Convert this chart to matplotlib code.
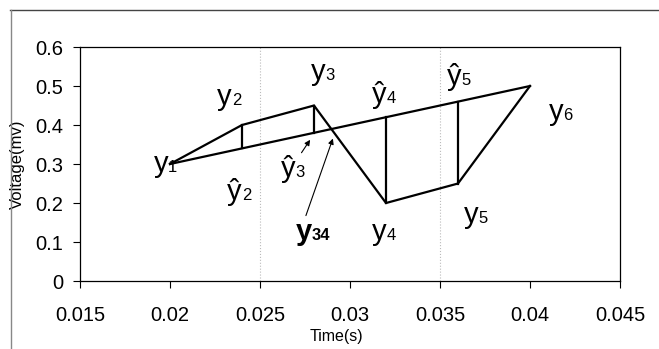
import numpy as np
import matplotlib.pyplot as plt
from matplotlib.lines import Line2D

plt.rcParams['font.family'] = ['Liberation Sans', 'DejaVu Sans']

# measured samples y1..y6
t = [0.020, 0.024, 0.028, 0.032, 0.036, 0.040]
v = [0.30, 0.40, 0.45, 0.20, 0.25, 0.50]
# straight estimate y1 -> y6
t_hat = [0.020, 0.040]
v_hat = [0.30, 0.50]
x_ticks = [0.015, 0.02, 0.025, 0.03, 0.035, 0.04, 0.045]
x_ticklabels = ['0.015', '0.02', '0.025', '0.03', '0.035', '0.04', '0.045']
y_ticks = [0, 0.1, 0.2, 0.3, 0.4, 0.5, 0.6]
y_ticklabels = ['0', '0.1', '0.2', '0.3', '0.4', '0.5', '0.6']
grid_x = [0.025, 0.035]

# point labels: letter, subscript, x, baseline y, bold
labels = [
    ('y', '1', 0.01989, 0.279, False),
    ('y', '2', 0.02343, 0.451, False),
    ('y', '3', 0.02862, 0.515, False),
    ('y', '4', 0.03204, 0.105, False),
    ('y', '5', 0.03713, 0.148, False),
    ('y', '6', 0.04185, 0.413, False),
    ('\u0177', '2', 0.02398, 0.208, False),
    ('\u0177', '3', 0.02694, 0.267, False),
    ('\u0177', '4', 0.03204, 0.456, False),
    ('\u0177', '5', 0.0362, 0.503, False),
    ('y', '34', 0.02787, 0.105, True),
]


def v_est(x):
    return np.interp(x, t_hat, v_hat)


fig = plt.figure(figsize=(6.59, 3.49), dpi=100)
ax = fig.add_axes([0.1214, 0.1948, 0.8194, 0.6705])

for gx in grid_x:
    ax.axvline(gx, color='#bbbbbb', lw=0.8, ls=':', zorder=0)

ax.plot(t, v, color='black', lw=1.6, solid_joinstyle='miter')
ax.plot(t_hat, v_hat, color='black', lw=1.6)
for ti, vi in zip(t[1:-1], v[1:-1]):
    ax.plot([ti, ti], [vi, v_est(ti)], color='black', lw=1.6)

for base, sub, x, y, bold in labels:
    w = 'bold' if bold else 'normal'
    ax.text(x, y, base, fontsize=21, ha='right', va='baseline', fontweight=w)
    ax.text(x, y, sub, fontsize=12, ha='left', va='baseline', fontweight=w)

# arrows to the estimate line and the y3-y4 crossing
ax.annotate('', xy=(0.0291, 0.372), xytext=(0.0275, 0.161),
            arrowprops=dict(arrowstyle='-|>', color='black', lw=0.8,
                            mutation_scale=8))
ax.annotate('', xy=(0.02787, 0.368), xytext=(0.02722, 0.323),
            arrowprops=dict(arrowstyle='-|>', color='black', lw=0.8,
                            mutation_scale=8))

ax.set_xlim(0.015, 0.045)
ax.set_ylim(0, 0.6)
ax.set_xticks(x_ticks)
ax.set_xticklabels(x_ticklabels)
ax.set_yticks(y_ticks)
ax.set_yticklabels(y_ticklabels)
ax.tick_params(labelsize=14.5, length=5, width=0.8, direction='out')
ax.tick_params(axis='x', pad=13)
ax.tick_params(axis='y', pad=7)
for sp in ax.spines.values():
    sp.set_linewidth(0.9)

ax.set_xlabel('Time(s)', fontsize=11.5, va='center')
ax.xaxis.set_label_coords((336 - 80) / 540, -55 / 234)
ax.set_ylabel('Voltage(mv)', fontsize=12, va='center')
ax.yaxis.set_label_coords((17 - 80) / 540, 0.5)

# outer chart frame (only top and left visible)
fig.add_artist(Line2D([10 / 659, 1], [1 - 10 / 349, 1 - 10 / 349],
                      transform=fig.transFigure, color='#444444', lw=1))
fig.add_artist(Line2D([11 / 659, 11 / 659], [0, 1 - 10 / 349],
                      transform=fig.transFigure, color='#888888', lw=1))

fig.savefig('out.png', dpi=100)
